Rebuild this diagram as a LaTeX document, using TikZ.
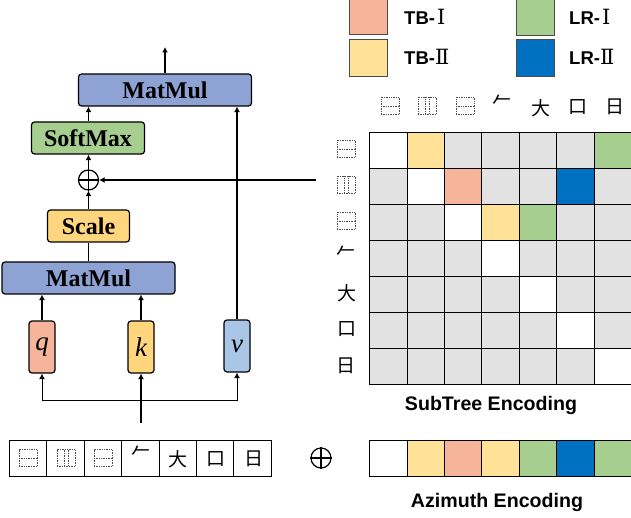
\documentclass[tikz,border=0pt]{standalone}
\usepackage{fontspec}
\setmainfont{Liberation Serif}
\setsansfont{Liberation Sans}
\newfontfamily\cjk{Noto Sans CJK SC}
\newfontfamily\romanfig{DejaVu Serif}
\newcommand{\numeral}[1]{{\romanfig\mdseries\fontsize{21}{22}\selectfont #1}}
\usetikzlibrary{arrows.meta}
\definecolor{cblue}{HTML}{8FA2D4}
\definecolor{cgreen}{HTML}{A6CE8F}
\definecolor{cgold}{HTML}{FFD57E}
\definecolor{csalmon}{HTML}{F6B49A}
\definecolor{cyellow}{HTML}{FFE297}
\definecolor{cdeep}{HTML}{0070C0}
\definecolor{cv}{HTML}{A9C6E7}
\definecolor{cgray}{HTML}{E2E2E2}
\tikzset{
  blockbox/.style={draw=black,line width=1.2pt,rounded corners=3pt,inner sep=0pt,font=\bfseries\fontsize{24}{26}\selectfont},
  vecbox/.style={blockbox,font=\itshape\fontsize{27}{29}\selectfont},
  conn/.style={draw=black,line width=1.3pt,-{Latex[length=5.5pt,width=6pt]}},
  thinconn/.style={conn,line width=1pt},
  plain/.style={draw=black,line width=1.3pt},
  cell/.style={draw=black,line width=1pt,minimum width=37.4pt,minimum height=36pt,inner sep=0pt},
  legendbox/.style={draw=black!70,line width=1pt,minimum width=38pt,minimum height=37pt,inner sep=0pt},
  legendtext/.style={font=\sffamily\bfseries\fontsize{18.5}{20}\selectfont,anchor=west,inner sep=0pt},
  captiontext/.style={font=\sffamily\bfseries\fontsize{19.6}{22}\selectfont,inner sep=0pt},
  oplus/.style={circle,draw=black,line width=1.2pt,minimum size=20pt,inner sep=0pt},
  glyph/.style={font=\cjk\fontsize{19}{19}\selectfont,inner sep=0pt},
  ghost/.style={draw=black!70,densely dotted,line width=.7pt}
}
\newcommand{\ghosth}[2]{\draw[ghost] (#1-9,#2-8.5) rectangle (#1+9,#2+8.5); \draw[ghost] (#1-9,#2) -- (#1+9,#2);}
\newcommand{\ghostv}[2]{\draw[ghost] (#1-9,#2-8.5) rectangle (#1+9,#2+8.5); \draw[ghost] (#1-2,#2-8.5) -- (#1-2,#2+8.5); \draw[ghost] (#1+2,#2-8.5) -- (#1+2,#2+8.5);}
\begin{document}
\begin{tikzpicture}[x=1pt,y=-1pt]
\useasboundingbox (0,0) rectangle (631,518);
% blocks
\node[blockbox,fill=cblue,minimum width=173pt,minimum height=32pt] (mm2) at (165,90) {MatMul};
\node[blockbox,fill=cgreen,minimum width=113pt,minimum height=32pt] (soft) at (88,138) {SoftMax};
\node[oplus] (add) at (88.5,180) {};
\draw[line width=1.2pt] (add.north)--(add.south) (add.west)--(add.east);
\node[blockbox,fill=cgold,minimum width=82pt,minimum height=32pt] (scale) at (88.5,226) {Scale};
\node[blockbox,fill=cblue,minimum width=173pt,minimum height=32pt] (mm1) at (88.5,278) {MatMul};
\node[vecbox,fill=csalmon,minimum width=26pt,minimum height=52pt] (q) at (42,347) {q};
\node[vecbox,fill=cgold,minimum width=26pt,minimum height=52pt] (k) at (141,347) {k};
\node[vecbox,fill=cv,minimum width=26pt,minimum height=52pt] (v) at (237,346) {v};
\coordinate (out) at (165,47);
\coordinate (in) at (141,423);
\coordinate (split) at (141,400);
\coordinate (fromgrid) at (316,180);
\draw[conn] (mm2.north) -- (out);
\draw[conn] (soft.north -| add.north) -- (add.north |- mm2.south);
\draw[conn] (add.north) -- (add.north |- soft.south);
\draw[conn] (scale.north) -- (add.south);
\draw[plain] (mm1.north) -- (scale.south);
\draw[conn] (q.north) -- (q.north |- mm1.south);
\draw[conn] (k.north) -- (k.north |- mm1.south);
\draw[conn] (v.north) -- (v.north |- mm2.south);
\draw[conn] (in) -- (k.south);
\draw[thinconn] (split) -| (q.south);
\draw[thinconn] (split) -| (v.south);
\draw[conn,line width=1.8pt] (fromgrid) -- (add.east);
% legend
\node[legendbox,fill=csalmon] (l1) at (368,16) {};
\node[legendbox,fill=cyellow] (l2) at (368,58.5) {};
\node[legendbox,fill=cgreen] (l3) at (535,17) {};
\node[legendbox,fill=cdeep] (l4) at (535,58.5) {};
\node[legendtext] (t1) at (404,17) {TB-\hspace{2pt}\numeral{Ⅰ}};
\node[legendtext] (t2) at (404,57) {TB-\numeral{Ⅱ}};
\node[legendtext] (t3) at (569,17) {LR-\hspace{2pt}\numeral{Ⅰ}};
\node[legendtext] (t4) at (569,57) {LR-\numeral{Ⅱ}};
% grid
\foreach \r in {1,...,7}{\foreach \c in {1,...,7}{
  \node[cell,fill=cgray] (g\r-\c) at ({369.6+37.4*(\c-.5)},{132.3+36*(\r-.5)}) {};
}}
\foreach \n/\col in {1-1/white,1-2/cyellow,1-7/cgreen,2-2/white,2-3/csalmon,2-6/cdeep,3-3/white,3-4/cyellow,3-5/cgreen,4-4/white,5-5/white,6-6/white,7-7/white}{
  \node[cell,fill=\col] at (g\n) {};
}
% top labels
\ghosth{390}{106}\ghostv{427}{106}\ghosth{465}{106}
\node[glyph] (a4) at (502,101) {𠂉};
\node[glyph] (a5) at (541,108) {大};
\node[glyph] (a6) at (578,107) {口};
\node[glyph] (a7) at (615,107) {日};
% left labels
\ghosth{346}{149}\ghostv{346}{185}\ghosth{346}{221}
\node[glyph] (b4) at (346,252) {𠂉};
\node[glyph] (b5) at (347,293) {大};
\node[glyph] (b6) at (347,329) {口};
\node[glyph] (b7) at (346,366) {日};
\node[captiontext] (c1) at (491,405) {SubTree Encoding};
\node[captiontext] (c2) at (497,502) {Azimuth Encoding};
% bottom sequence
\foreach \i in {1,...,7}{
  \node[cell] (s\i) at ({9.5+37.4*(\i-.5)},458) {};
}
\ghosth{28}{458}\ghostv{66}{458}\ghosth{103}{458}
\node[glyph] at (141,452) {𠂉};
\node[glyph] at (178,459) {大};
\node[glyph] at (216,459) {口};
\node[glyph] at (254,459) {日};
\node[oplus] (add2) at (321,458) {};
\draw[line width=1.2pt] (add2.north)--(add2.south) (add2.west)--(add2.east);
% azimuth bar
\foreach \i/\col in {1/white,2/cyellow,3/csalmon,4/cyellow,5/cgreen,6/cdeep,7/cgreen}{
  \node[cell,fill=\col] (z\i) at ({369.6+37.4*(\i-.5)},458) {};
}
\end{tikzpicture}
\end{document}
